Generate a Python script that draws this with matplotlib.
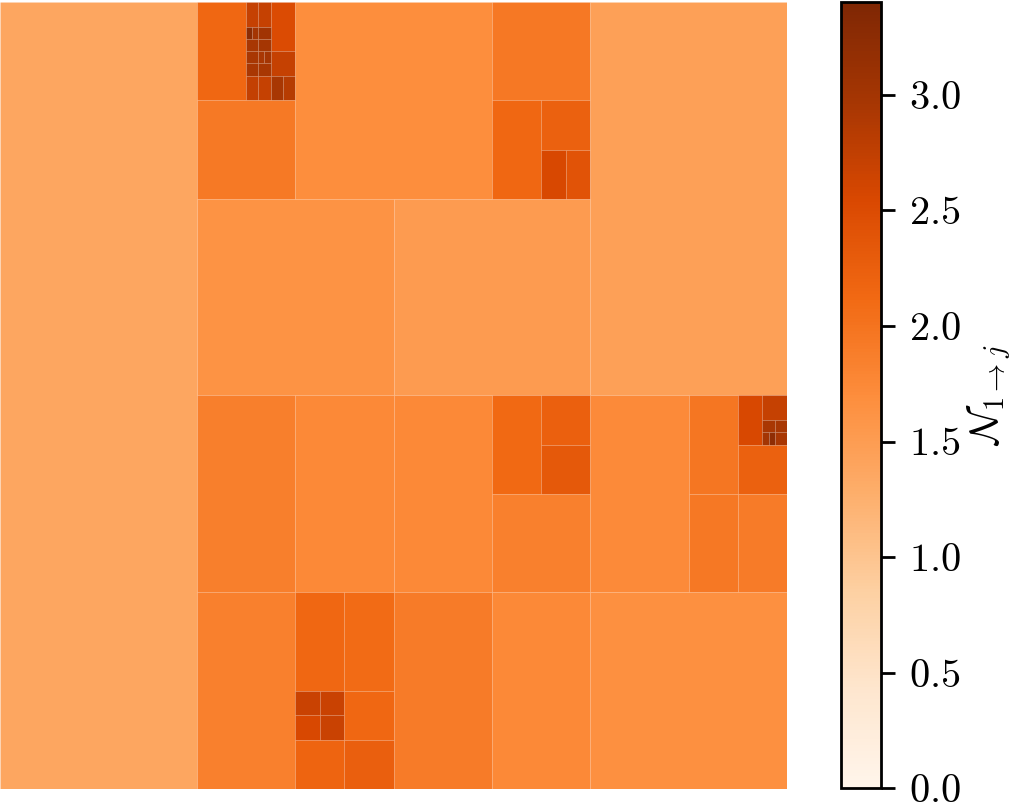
import matplotlib
matplotlib.use('Agg')
import matplotlib.pyplot as plt
from matplotlib.patches import Rectangle
from matplotlib.collections import PatchCollection
from matplotlib.colors import Normalize
from matplotlib.ticker import FuncFormatter

plt.rcParams['mathtext.fontset'] = 'cm'
plt.rcParams['font.family'] = 'serif'
plt.rcParams['font.serif'] = ['cmr10', 'DejaVu Serif']

# quadtree leaves on a 64x64 grid (row 0 at top)
cell_x = [0,
          16, 20, 21, 22, 20, 20.5, 21, 20, 21, 20, 21, 21.5, 22, 20, 21, 20, 21, 22, 23,
          16, 24, 16, 40, 40, 44, 44, 46, 48, 32,
          16, 24, 32, 40, 44, 44, 40, 48, 56, 56, 60, 62, 62, 63, 62, 62.5, 63, 60, 60,
          16, 24, 28, 24, 26, 24, 26, 28, 24, 28, 32, 40, 48]
cell_y = [0,
          0, 0, 0, 0, 2, 2, 2, 3, 3, 4, 4, 4, 4, 5, 5, 6, 6, 6, 6,
          8, 0, 16, 0, 8, 8, 12, 12, 0, 16,
          32, 32, 32, 32, 32, 36, 40, 32, 32, 40, 32, 32, 34, 34, 35, 35, 35, 36, 40,
          48, 48, 48, 56, 56, 58, 58, 56, 60, 60, 48, 48, 48]
cell_w = [16,
          4, 1, 1, 2, 0.5, 0.5, 1, 1, 1, 1, 0.5, 0.5, 2, 1, 1, 1, 1, 1, 1,
          8, 16, 16, 8, 4, 4, 2, 2, 16, 16,
          8, 8, 8, 4, 4, 4, 8, 8, 4, 4, 2, 2, 1, 1, 0.5, 0.5, 1, 4, 4,
          8, 4, 4, 2, 2, 2, 2, 4, 4, 4, 8, 8, 16]
cell_h = [64,
          8, 2, 2, 4, 1, 1, 1, 1, 1, 1, 1, 1, 2, 1, 1, 2, 2, 2, 2,
          8, 16, 16, 8, 8, 4, 4, 4, 32, 16,
          16, 16, 16, 8, 4, 4, 8, 16, 8, 8, 4, 2, 1, 1, 1, 1, 1, 4, 8,
          16, 8, 8, 2, 2, 2, 2, 4, 4, 4, 16, 16, 16]
cell_val = [1.38,
            2.15, 2.72, 2.72, 2.51, 3.26, 2.99, 3.02, 2.96, 2.98, 2.96, 2.94, 2.99, 2.72, 2.94, 2.96, 2.73, 2.71, 2.95, 2.84,
            1.93, 1.69, 1.63, 1.95, 2.14, 2.23, 2.55, 2.41, 1.46, 1.52,
            1.87, 1.74, 1.74, 2.12, 2.24, 2.33, 1.85, 1.73, 1.97, 1.94, 2.55, 2.72, 2.94, 2.96, 3.00, 3.22, 2.94, 2.23, 1.91,
            1.85, 2.15, 2.11, 2.67, 2.68, 2.56, 2.68, 2.15, 2.18, 2.25, 1.91, 1.74, 1.67]
vmax = 3.4
cbar_ticks = [0.0, 0.5, 1.0, 1.5, 2.0, 2.5, 3.0]

fig = plt.figure(figsize=(10.2, 8.05), dpi=100)
ax = fig.add_axes([0.0, 0.0199, 0.7716, 0.9776])
cax = fig.add_axes([0.8245, 0.0207, 0.0392, 0.9764])

rects = [Rectangle((x, y), w, h) for x, y, w, h in zip(cell_x, cell_y, cell_w, cell_h)]
pc = PatchCollection(rects, cmap='Oranges', norm=Normalize(0, vmax),
                     linewidth=0.5, edgecolor=(1, 1, 1, 0.09), antialiased=True)
pc.set_array(cell_val)
ax.add_collection(pc)
ax.set_xlim(0, 64)
ax.set_ylim(64, 0)
ax.set_axis_off()

cb = fig.colorbar(pc, cax=cax, ticks=cbar_ticks)
cb.outline.set_linewidth(2)
cb.ax.tick_params(length=10, width=2, pad=10, labelsize=29)
cb.ax.yaxis.set_major_formatter(FuncFormatter(lambda v, p: f'${v:.1f}$'))
cb.set_label(r'$\mathcal{N}_{1\to j}$', fontsize=29, labelpad=4)

fig.savefig('out.png', dpi=100)
